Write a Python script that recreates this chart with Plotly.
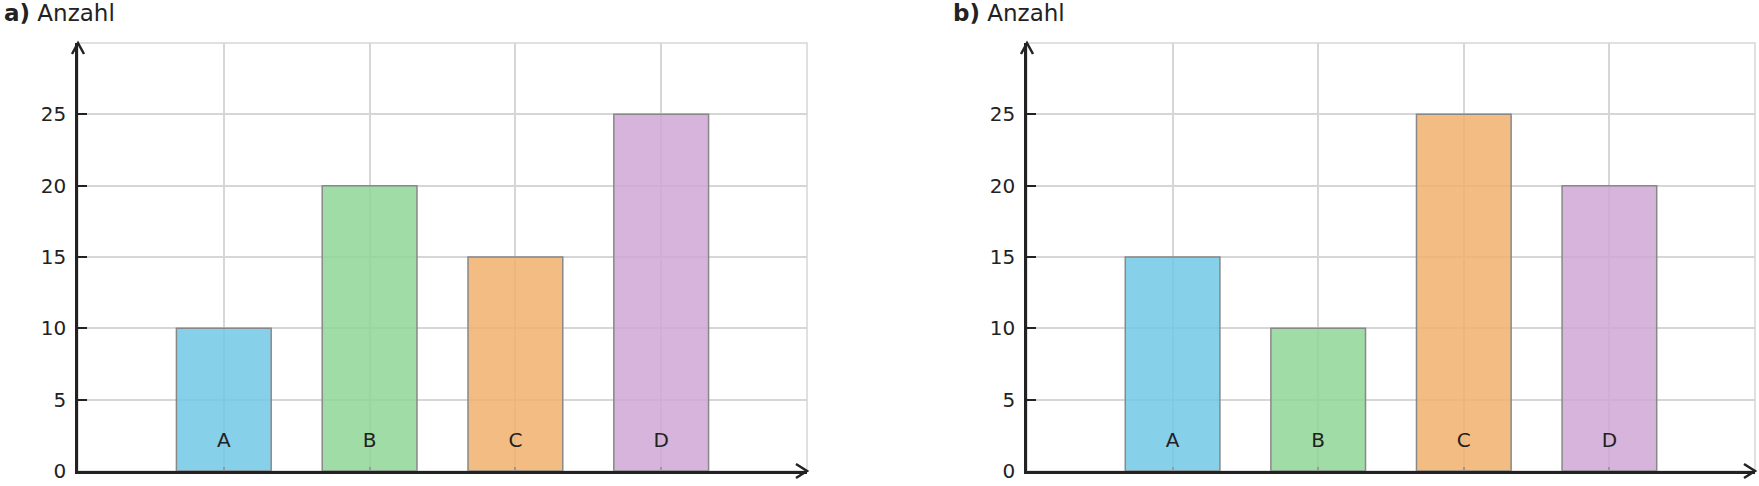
import plotly.graph_objects as go

categories = ["A", "B", "C", "D"]
positions = [1, 2, 3, 4]
values_a = [10, 20, 15, 25]
values_b = [15, 10, 25, 20]
bar_colors = ["rgba(114,200,230,0.85)", "rgba(143,214,150,0.85)",
              "rgba(240,176,109,0.85)", "rgba(208,167,213,0.85)"]
y_ticks = [0, 5, 10, 15, 20, 25, 30]
y_ticktext = ["0", "5", "10", "15", "20", "25", ""]
label_y = 2
titles = ["<b>a)</b> Anzahl", "<b>b)</b> Anzahl"]

W, H = 1759, 486
FONT = "DejaVu Sans"
TXT = "#222222"

fig = go.Figure()

panels = [
    (values_a, "x", "y", [78 / W, 807 / W]),
    (values_b, "x2", "y2", [1027 / W, 1755 / W]),
]
ydom = [(H - 471) / H, (H - 43) / H]

for i, (vals, xr, yr, xdom) in enumerate(panels):
    fig.add_trace(go.Bar(
        x=positions, y=vals, width=0.65,
        marker=dict(color=bar_colors, line=dict(color="#888888", width=1.5)),
        xaxis=xr, yaxis=yr, showlegend=False, hoverinfo="skip",
    ))
    fig.add_trace(go.Scatter(
        x=positions, y=[label_y] * len(positions), mode="text",
        text=categories, textfont=dict(family=FONT, size=20, color=TXT),
        xaxis=xr, yaxis=yr, showlegend=False, hoverinfo="skip",
    ))
    sfx = "" if i == 0 else "2"
    fig.layout["xaxis" + sfx] = dict(
        domain=xdom, range=[0, 5], anchor=yr, automargin=False,
        tickvals=[1, 2, 3, 4], showticklabels=False,
        ticks="inside", ticklen=4, tickcolor="#999999", tickwidth=2,
        showgrid=True, gridcolor="#d6d6d6", gridwidth=1.5,
        showline=True, linecolor="#222222", linewidth=2.5,
        zeroline=False, fixedrange=True,
    )
    fig.layout["yaxis" + sfx] = dict(
        domain=ydom, range=[0, 30], anchor=xr, automargin=False,
        tickvals=y_ticks, ticktext=y_ticktext,
        ticks="inside", ticklen=9, tickcolor="#222222", tickwidth=2,
        ticklabelstandoff=5,
        tickfont=dict(family=FONT, size=20, color=TXT),
        showgrid=True, gridcolor="#d6d6d6", gridwidth=1.5,
        showline=True, linecolor="#222222", linewidth=2.5,
        zeroline=False, fixedrange=True,
    )
    fig.add_shape(type="rect", xref=xr + " domain", yref=yr + " domain",
                  x0=0, x1=1, y0=0, y1=1, line=dict(color="#d6d6d6", width=1.5),
                  layer="below")
    fig.add_shape(type="path", xref="paper", yref="paper", xsizemode="pixel", ysizemode="pixel",
                  xanchor=xdom[1], yanchor=ydom[0], path="M-11,7 L0,0 L-11,-7",
                  line=dict(color="#222222", width=2.5))
    fig.add_shape(type="path", xref="paper", yref="paper", xsizemode="pixel", ysizemode="pixel",
                  xanchor=xdom[0], yanchor=ydom[1], path="M-6,-11 L0,0 L6,-11",
                  line=dict(color="#222222", width=2.5))
    fig.add_annotation(
        text=titles[i], xref="paper", yref="paper",
        x=(xdom[0] * W - 76) / W, y=1 - 13 / H, xanchor="left", yanchor="middle",
        showarrow=False, font=dict(family=FONT, size=23, color=TXT),
    )

fig.update_layout(
    width=W, height=H,
    margin=dict(l=0, r=0, t=0, b=0, autoexpand=False),
    paper_bgcolor="white", plot_bgcolor="white",
    bargap=0.35,
)

fig.write_html("out.html", config={"displayModeBar": False},
               post_script="document.body.style.margin='0';")
